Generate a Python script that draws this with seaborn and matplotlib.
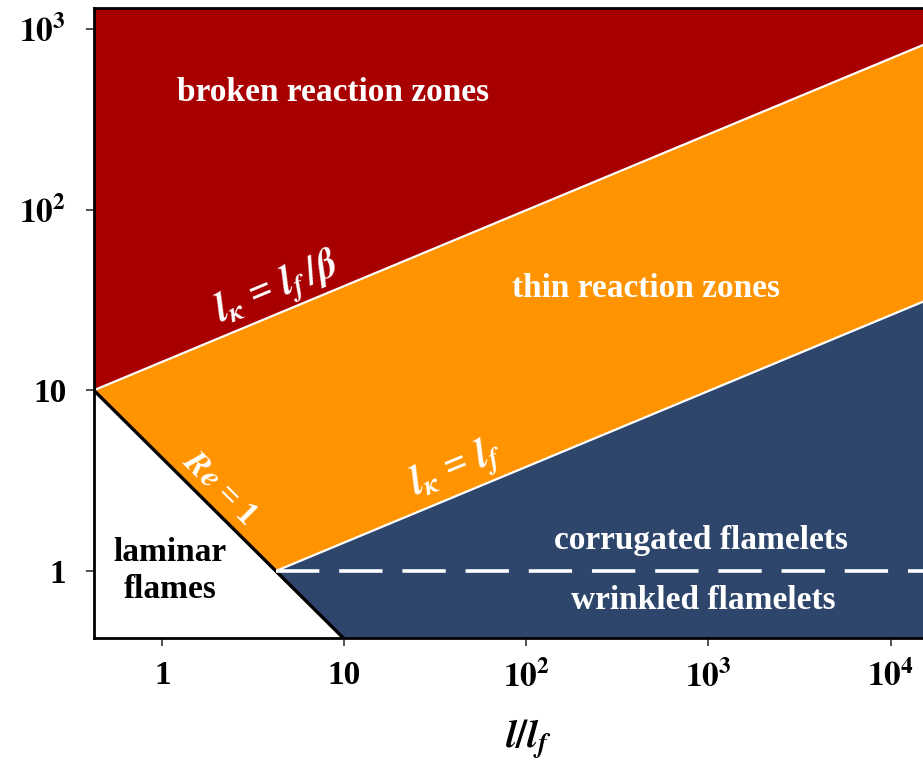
import numpy as np
import pandas as pd
import matplotlib
matplotlib.use("Agg")
import matplotlib.pyplot as plt
import seaborn as sns

# Regime boundaries (x = l/l_f, y = u'/s_L), log-log
re1_x = [0.42, 4.2, 9.86]          # Re = 1
re1_y = [10.0, 1.0, 0.426]
kf_x = [4.2, 24700.0]              # l_K = l_f
kf_y = [1.0, 38.0]
kb_x = [0.42, 24700.0]             # l_K = l_f / beta
kb_y = [10.0, 1000.0]
dash_x = [4.2, 24700.0]            # corrugated / wrinkled divide
dash_y = [1.0, 1.0]

x_ticks = [1, 10, 100, 1000, 10000]
x_labels = ["1", "10", r"$\mathbf{10^{2}}$", r"$\mathbf{10^{3}}$", r"$\mathbf{10^{4}}$"]
y_ticks = [1, 10, 100, 1000]
y_labels = ["1", "10", r"$\mathbf{10^{2}}$", r"$\mathbf{10^{3}}$"]

x_lim = (0.421, 24700.0)
y_lim = (0.426, 1303.0)

red = "#A80000"
orange = "#FF9400"
navy = "#2E466C"

sns.set_style("ticks")
plt.rcParams["font.family"] = ["Liberation Serif", "DejaVu Serif"]
plt.rcParams["mathtext.fontset"] = "stix"
plt.rcParams["font.weight"] = "bold"

fig = plt.figure(figsize=(9.23, 7.67), dpi=100)
ax = fig.add_axes([94 / 923, (767 - 638) / 767, (962 - 94) / 923, (638 - 8) / 767])
ax.set_xscale("log")
ax.set_yscale("log")
ax.set_xlim(*x_lim)
ax.set_ylim(*y_lim)

x0, x1 = x_lim
y0, y1 = y_lim

# broken reaction zones
ax.fill([kb_x[0], kb_x[1], x1, x0], [kb_y[0], kb_y[1], y1, y1],
        color=red, lw=0, zorder=1)
# thin reaction zones
ax.fill([re1_x[0], kb_x[1], kf_x[1], re1_x[1]],
        [re1_y[0], kb_y[1], kf_y[1], re1_y[1]],
        color=orange, lw=0, zorder=1)
# flamelets
ax.fill([re1_x[1], kf_x[1], x1, re1_x[2]],
        [re1_y[1], kf_y[1], y0, re1_y[2]],
        color=navy, lw=0, zorder=1)

lines = pd.DataFrame({
    "x": kb_x + kf_x,
    "y": kb_y + kf_y,
    "line": ["beta"] * 2 + ["f"] * 2,
})
sns.lineplot(data=lines, x="x", y="y", units="line", estimator=None, sort=False,
             color="white", lw=1.6, ax=ax, zorder=3)
sns.lineplot(x=re1_x, y=re1_y, sort=False, color="black", lw=2.4, ax=ax, zorder=3)
sns.lineplot(x=dash_x, y=dash_y, sort=False, color="white", lw=2.6, ax=ax,
             zorder=3, dashes=False)
ax.lines[-1].set_dashes([12, 5.5])

ax.set_xlim(*x_lim)
ax.set_ylim(*y_lim)


def angle_of(xs, ys):
    p = ax.transData.transform(np.column_stack([xs[:2], ys[:2]]))
    return np.degrees(np.arctan2(p[1, 1] - p[0, 1], p[1, 0] - p[0, 0]))


fs = 24
txt = dict(ha="center", va="center", fontweight="bold", fontsize=fs, zorder=5)
ax.text(8.65, 442, "broken reaction zones", color="white", **txt)
ax.text(454, 36.4, "thin reaction zones", color="white", **txt)
ax.text(910, 1.48, "corrugated flamelets", color="white", **txt)
ax.text(933, 0.69, "wrinkled flamelets", color="white", **txt)
ax.text(1.1, 1.0, "laminar\nflames", color="black", linespacing=1.22, **txt)

rot = dict(ha="center", va="center", color="white",
           rotation_mode="anchor", zorder=5)
ax.text(4.31, 35.9, r"$l_{\kappa}$ = $l_f\,/\beta$", rotation=angle_of(kb_x, kb_y),
        fontsize=29, **rot)
ax.text(41.5, 3.62, r"$l_{\kappa}$ = $l_f$", rotation=angle_of(kf_x, kf_y),
        fontsize=29, **rot)
ax.text(2.07, 2.88, r"$Re$ = 1", rotation=angle_of(re1_x[:2], re1_y[:2]),
        fontweight="bold", fontsize=24, **rot)

ax.set_xticks(x_ticks)
ax.set_xticklabels(x_labels)
ax.set_yticks(y_ticks)
ax.set_yticklabels(y_labels)
ax.minorticks_off()
ax.tick_params(axis="both", which="major", length=6, width=1.2, color="#333333",
               labelsize=24, labelcolor="black", direction="out")
ax.tick_params(axis="x", pad=10)
ax.tick_params(axis="y", pad=14)
for lab in ax.get_xticklabels() + ax.get_yticklabels():
    lab.set_fontweight("bold")

for side in ["left", "bottom", "top"]:
    ax.spines[side].set_visible(True)
    ax.spines[side].set_linewidth(2.0)
    ax.spines[side].set_color("black")
    ax.spines[side].set_zorder(6)
ax.spines["right"].set_visible(False)

ax.set_xlabel(r"$l/l_f$", fontsize=28, labelpad=17, color="black")
ax.set_ylabel("")

fig.savefig("out.png", dpi=100)
